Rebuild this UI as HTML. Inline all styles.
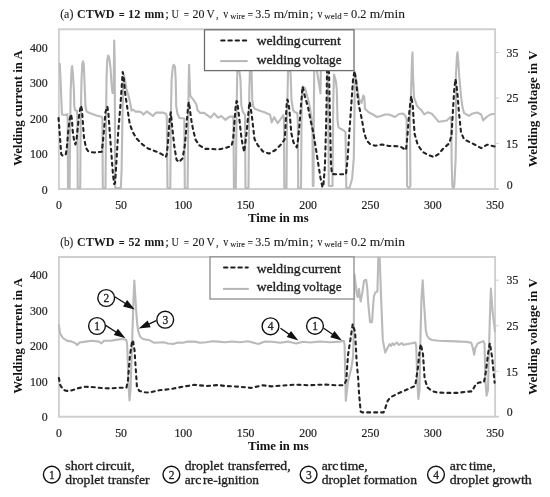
<!DOCTYPE html>
<html><head><meta charset="utf-8"><style>
html,body{margin:0;padding:0;background:#fff;width:550px;height:497px;overflow:hidden}
svg{display:block;will-change:transform;font-family:"Liberation Serif", serif}
</style></head><body>
<svg width="550" height="497" viewBox="0 0 550 497">
<text transform="translate(60.17 17.90) scale(1.0053 1)" font-size="11.8" stroke="#1a1a1a" stroke-width="0.1" fill="#1a1a1a">(a)</text>
<text transform="translate(76.99 17.90) scale(1.0259 1)" font-size="11.8" font-weight="bold" fill="#1a1a1a">CTWD</text>
<text transform="translate(118.87 18.80) scale(0.8930 1)" font-size="11.8" font-weight="bold" fill="#1a1a1a">=</text>
<text transform="translate(128.01 17.90) scale(1.0497 1)" font-size="11.8" font-weight="bold" fill="#1a1a1a">12</text>
<text transform="translate(144.40 17.90) scale(1.0013 1)" font-size="11.8" font-weight="bold" fill="#1a1a1a">mm</text>
<text transform="translate(165.33 17.90) scale(1.1299 1)" font-size="11.8" stroke="#1a1a1a" stroke-width="0.1" fill="#1a1a1a">;</text>
<text transform="translate(171.49 17.90) scale(0.8724 1)" font-size="11.8" stroke="#1a1a1a" stroke-width="0.1" fill="#1a1a1a">U</text>
<text transform="translate(183.74 18.80) scale(0.7837 1)" font-size="11.8" stroke="#1a1a1a" stroke-width="0.1" fill="#1a1a1a">=</text>
<text transform="translate(192.46 17.90) scale(1.0188 1)" font-size="11.8" stroke="#1a1a1a" stroke-width="0.1" fill="#1a1a1a">20</text>
<text transform="translate(206.59 17.90) scale(0.9685 1)" font-size="11.8" stroke="#1a1a1a" stroke-width="0.1" fill="#1a1a1a">V</text>
<text transform="translate(215.91 17.90) scale(0.8182 1)" font-size="11.8" stroke="#1a1a1a" stroke-width="0.1" fill="#1a1a1a">,</text>
<text transform="translate(223.20 17.90) scale(0.7692 1)" font-size="13.0" stroke="#1a1a1a" stroke-width="0.1" fill="#1a1a1a">v</text>
<text transform="translate(230.20 18.80) scale(0.9508 1)" font-size="8.8" stroke="#1a1a1a" stroke-width="0.1" fill="#1a1a1a">wire</text>
<text transform="translate(247.41 18.80) scale(0.8383 1)" font-size="11.8" stroke="#1a1a1a" stroke-width="0.1" fill="#1a1a1a">=</text>
<text transform="translate(255.16 17.90) scale(1.0257 1)" font-size="11.8" stroke="#1a1a1a" stroke-width="0.1" fill="#1a1a1a">3.5</text>
<text transform="translate(273.73 17.90) scale(1.1321 1)" font-size="11.8" stroke="#1a1a1a" stroke-width="0.1" fill="#1a1a1a">m/min</text>
<text transform="translate(310.10 17.90) scale(1.0169 1)" font-size="11.8" stroke="#1a1a1a" stroke-width="0.1" fill="#1a1a1a">;</text>
<text transform="translate(317.50 17.90) scale(0.7692 1)" font-size="13.0" stroke="#1a1a1a" stroke-width="0.1" fill="#1a1a1a">v</text>
<text transform="translate(324.30 18.80) scale(1.0160 1)" font-size="8.8" stroke="#1a1a1a" stroke-width="0.1" fill="#1a1a1a">weld</text>
<text transform="translate(343.38 18.80) scale(0.7108 1)" font-size="11.8" stroke="#1a1a1a" stroke-width="0.1" fill="#1a1a1a">=</text>
<text transform="translate(351.00 17.90) scale(1.0492 1)" font-size="11.8" stroke="#1a1a1a" stroke-width="0.1" fill="#1a1a1a">0.2</text>
<text transform="translate(369.73 17.90) scale(1.1453 1)" font-size="11.8" stroke="#1a1a1a" stroke-width="0.1" fill="#1a1a1a">m/min</text>
<path d="M58.9 189.0 V29.3 H495.1 V189.0 M58.0 189.0 H498.90000000000003" fill="none" stroke="#cfcfcf" stroke-width="1.9"/>
<line x1="495.1" y1="52.5" x2="498.90000000000003" y2="52.5" stroke="#cfcfcf" stroke-width="1"/>
<line x1="495.1" y1="98.1" x2="498.90000000000003" y2="98.1" stroke="#cfcfcf" stroke-width="1"/>
<line x1="495.1" y1="143.6" x2="498.90000000000003" y2="143.6" stroke="#cfcfcf" stroke-width="1"/>
<text transform="translate(29.97 51.65) scale(1.0000 1)" font-size="11.8" stroke="#222" stroke-width="0.2" fill="#222">400</text>
<text transform="translate(29.97 87.25) scale(1.0000 1)" font-size="11.8" stroke="#222" stroke-width="0.2" fill="#222">300</text>
<text transform="translate(29.97 122.75) scale(1.0000 1)" font-size="11.8" stroke="#222" stroke-width="0.2" fill="#222">200</text>
<text transform="translate(29.97 158.25) scale(1.0000 1)" font-size="11.8" stroke="#222" stroke-width="0.2" fill="#222">100</text>
<text transform="translate(41.77 193.75) scale(1.0000 1)" font-size="11.8" stroke="#222" stroke-width="0.2" fill="#222">0</text>
<text transform="translate(506.57 56.65) scale(1.0000 1)" font-size="11.8" stroke="#222" stroke-width="0.2" fill="#222">35</text>
<text transform="translate(506.57 102.15) scale(1.0000 1)" font-size="11.8" stroke="#222" stroke-width="0.2" fill="#222">25</text>
<text transform="translate(506.10 147.95) scale(1.0000 1)" font-size="11.8" stroke="#222" stroke-width="0.2" fill="#222">15</text>
<text transform="translate(506.63 188.65) scale(1.0000 1)" font-size="11.8" stroke="#222" stroke-width="0.2" fill="#222">0</text>
<text transform="translate(55.95 209.25) scale(1.0000 1)" font-size="11.8" stroke="#222" stroke-width="0.2" fill="#222">0</text>
<text transform="translate(115.20 209.25) scale(1.0000 1)" font-size="11.8" stroke="#222" stroke-width="0.2" fill="#222">50</text>
<text transform="translate(174.41 209.25) scale(1.0000 1)" font-size="11.8" stroke="#222" stroke-width="0.2" fill="#222">100</text>
<text transform="translate(236.73 209.25) scale(1.0000 1)" font-size="11.8" stroke="#222" stroke-width="0.2" fill="#222">150</text>
<text transform="translate(299.28 209.25) scale(1.0000 1)" font-size="11.8" stroke="#222" stroke-width="0.2" fill="#222">200</text>
<text transform="translate(361.59 209.25) scale(1.0000 1)" font-size="11.8" stroke="#222" stroke-width="0.2" fill="#222">250</text>
<text transform="translate(423.91 209.25) scale(1.0000 1)" font-size="11.8" stroke="#222" stroke-width="0.2" fill="#222">300</text>
<text transform="translate(486.22 209.25) scale(1.0000 1)" font-size="11.8" stroke="#222" stroke-width="0.2" fill="#222">350</text>
<text transform="translate(247.91 221.80) scale(1.1013 1)" font-size="11.6" font-weight="bold" fill="#111">Time in ms</text>
<text transform="translate(21.50 165.99) rotate(-90) scale(1.0627 1)" font-size="12.1" font-weight="bold" fill="#111">Welding current in A</text>
<text transform="translate(537.20 167.20) rotate(-90) scale(1.0845 1)" font-size="12.1" font-weight="bold" fill="#111">Welding voltage in V</text>
<text transform="translate(60.20 245.60) scale(0.9495 1)" font-size="11.8" stroke="#1a1a1a" stroke-width="0.1" fill="#1a1a1a">(b)</text>
<text transform="translate(76.99 245.60) scale(1.0259 1)" font-size="11.8" font-weight="bold" fill="#1a1a1a">CTWD</text>
<text transform="translate(118.87 246.50) scale(0.8930 1)" font-size="11.8" font-weight="bold" fill="#1a1a1a">=</text>
<text transform="translate(128.53 245.60) scale(1.0041 1)" font-size="11.8" font-weight="bold" fill="#1a1a1a">52</text>
<text transform="translate(144.40 245.60) scale(1.0013 1)" font-size="11.8" font-weight="bold" fill="#1a1a1a">mm</text>
<text transform="translate(165.33 245.60) scale(1.1299 1)" font-size="11.8" stroke="#1a1a1a" stroke-width="0.1" fill="#1a1a1a">;</text>
<text transform="translate(171.49 245.60) scale(0.8724 1)" font-size="11.8" stroke="#1a1a1a" stroke-width="0.1" fill="#1a1a1a">U</text>
<text transform="translate(183.74 246.50) scale(0.7837 1)" font-size="11.8" stroke="#1a1a1a" stroke-width="0.1" fill="#1a1a1a">=</text>
<text transform="translate(192.46 245.60) scale(1.0188 1)" font-size="11.8" stroke="#1a1a1a" stroke-width="0.1" fill="#1a1a1a">20</text>
<text transform="translate(206.59 245.60) scale(0.9685 1)" font-size="11.8" stroke="#1a1a1a" stroke-width="0.1" fill="#1a1a1a">V</text>
<text transform="translate(215.91 245.60) scale(0.8182 1)" font-size="11.8" stroke="#1a1a1a" stroke-width="0.1" fill="#1a1a1a">,</text>
<text transform="translate(223.20 245.60) scale(0.7692 1)" font-size="13.0" stroke="#1a1a1a" stroke-width="0.1" fill="#1a1a1a">v</text>
<text transform="translate(230.20 246.50) scale(0.9508 1)" font-size="8.8" stroke="#1a1a1a" stroke-width="0.1" fill="#1a1a1a">wire</text>
<text transform="translate(247.41 246.50) scale(0.8383 1)" font-size="11.8" stroke="#1a1a1a" stroke-width="0.1" fill="#1a1a1a">=</text>
<text transform="translate(255.16 245.60) scale(1.0257 1)" font-size="11.8" stroke="#1a1a1a" stroke-width="0.1" fill="#1a1a1a">3.5</text>
<text transform="translate(273.73 245.60) scale(1.1321 1)" font-size="11.8" stroke="#1a1a1a" stroke-width="0.1" fill="#1a1a1a">m/min</text>
<text transform="translate(310.10 245.60) scale(1.0169 1)" font-size="11.8" stroke="#1a1a1a" stroke-width="0.1" fill="#1a1a1a">;</text>
<text transform="translate(317.50 245.60) scale(0.7692 1)" font-size="13.0" stroke="#1a1a1a" stroke-width="0.1" fill="#1a1a1a">v</text>
<text transform="translate(324.30 246.50) scale(1.0160 1)" font-size="8.8" stroke="#1a1a1a" stroke-width="0.1" fill="#1a1a1a">weld</text>
<text transform="translate(343.38 246.50) scale(0.7108 1)" font-size="11.8" stroke="#1a1a1a" stroke-width="0.1" fill="#1a1a1a">=</text>
<text transform="translate(351.00 245.60) scale(1.0492 1)" font-size="11.8" stroke="#1a1a1a" stroke-width="0.1" fill="#1a1a1a">0.2</text>
<text transform="translate(369.73 245.60) scale(1.1453 1)" font-size="11.8" stroke="#1a1a1a" stroke-width="0.1" fill="#1a1a1a">m/min</text>
<path d="M58.9 416.7 V257.0 H495.1 V416.7 M58.0 416.7 H498.90000000000003" fill="none" stroke="#cfcfcf" stroke-width="1.9"/>
<line x1="495.1" y1="280.2" x2="498.90000000000003" y2="280.2" stroke="#cfcfcf" stroke-width="1"/>
<line x1="495.1" y1="325.8" x2="498.90000000000003" y2="325.8" stroke="#cfcfcf" stroke-width="1"/>
<line x1="495.1" y1="371.3" x2="498.90000000000003" y2="371.3" stroke="#cfcfcf" stroke-width="1"/>
<text transform="translate(29.97 279.35) scale(1.0000 1)" font-size="11.8" stroke="#222" stroke-width="0.2" fill="#222">400</text>
<text transform="translate(29.97 314.95) scale(1.0000 1)" font-size="11.8" stroke="#222" stroke-width="0.2" fill="#222">300</text>
<text transform="translate(29.97 350.45) scale(1.0000 1)" font-size="11.8" stroke="#222" stroke-width="0.2" fill="#222">200</text>
<text transform="translate(29.97 385.95) scale(1.0000 1)" font-size="11.8" stroke="#222" stroke-width="0.2" fill="#222">100</text>
<text transform="translate(41.77 421.45) scale(1.0000 1)" font-size="11.8" stroke="#222" stroke-width="0.2" fill="#222">0</text>
<text transform="translate(506.57 284.35) scale(1.0000 1)" font-size="11.8" stroke="#222" stroke-width="0.2" fill="#222">35</text>
<text transform="translate(506.57 329.85) scale(1.0000 1)" font-size="11.8" stroke="#222" stroke-width="0.2" fill="#222">25</text>
<text transform="translate(506.10 375.65) scale(1.0000 1)" font-size="11.8" stroke="#222" stroke-width="0.2" fill="#222">15</text>
<text transform="translate(506.63 416.35) scale(1.0000 1)" font-size="11.8" stroke="#222" stroke-width="0.2" fill="#222">0</text>
<text transform="translate(55.95 436.95) scale(1.0000 1)" font-size="11.8" stroke="#222" stroke-width="0.2" fill="#222">0</text>
<text transform="translate(115.20 436.95) scale(1.0000 1)" font-size="11.8" stroke="#222" stroke-width="0.2" fill="#222">50</text>
<text transform="translate(174.41 436.95) scale(1.0000 1)" font-size="11.8" stroke="#222" stroke-width="0.2" fill="#222">100</text>
<text transform="translate(236.73 436.95) scale(1.0000 1)" font-size="11.8" stroke="#222" stroke-width="0.2" fill="#222">150</text>
<text transform="translate(299.28 436.95) scale(1.0000 1)" font-size="11.8" stroke="#222" stroke-width="0.2" fill="#222">200</text>
<text transform="translate(361.59 436.95) scale(1.0000 1)" font-size="11.8" stroke="#222" stroke-width="0.2" fill="#222">250</text>
<text transform="translate(423.91 436.95) scale(1.0000 1)" font-size="11.8" stroke="#222" stroke-width="0.2" fill="#222">300</text>
<text transform="translate(486.22 436.95) scale(1.0000 1)" font-size="11.8" stroke="#222" stroke-width="0.2" fill="#222">350</text>
<text transform="translate(247.91 449.50) scale(1.1013 1)" font-size="11.6" font-weight="bold" fill="#111">Time in ms</text>
<text transform="translate(21.50 393.69) rotate(-90) scale(1.0627 1)" font-size="12.1" font-weight="bold" fill="#111">Welding current in A</text>
<text transform="translate(537.20 394.90) rotate(-90) scale(1.0845 1)" font-size="12.1" font-weight="bold" fill="#111">Welding voltage in V</text>
<polyline points="58.6,64.0 59.8,64.0 61.0,90.0 61.6,106.0 62.0,114.5 66.0,115.0 67.3,114.0 67.7,120.0 68.0,188.0 69.6,188.0 70.2,120.0 70.7,90.0 71.5,70.0 72.1,66.1 72.8,72.0 73.9,90.0 74.3,106.0 75.0,110.0 77.0,111.0 77.4,116.0 77.7,188.0 80.2,188.0 80.7,120.0 81.5,80.0 82.3,64.0 83.0,61.3 83.8,64.0 84.8,90.0 85.5,106.0 86.5,111.5 89.6,113.0 96.5,115.5 101.7,116.7 102.4,118.0 102.8,188.0 105.5,188.0 106.1,120.0 106.5,80.0 107.2,60.0 108.2,55.5 109.3,58.0 110.5,68.0 111.6,85.0 112.5,93.0 113.6,93.0 114.2,40.5 114.7,60.0 115.2,188.0 120.8,188.0 121.6,170.0 122.4,120.0 123.2,85.0 123.9,75.5 125.0,80.0 126.4,88.7 128.3,95.0 129.9,101.5 131.5,110.5 133.2,109.7 135.6,111.8 138.1,111.4 141.4,112.2 143.4,114.6 146.7,111.4 149.5,113.4 152.8,115.9 156.1,112.6 159.4,112.6 162.6,112.6 165.9,113.8 166.8,116.0 167.5,188.0 170.3,188.0 170.8,120.0 171.6,80.0 172.8,67.0 173.9,64.8 175.0,67.0 175.7,80.0 176.2,106.0 177.5,114.0 179.6,118.0 184.3,118.5 184.8,188.0 187.6,188.0 188.3,120.0 188.7,80.0 189.1,64.8 189.6,80.0 190.2,95.0 190.8,96.6 194.1,100.7 196.3,104.2 197.6,110.3 200.2,112.9 204.1,112.9 207.2,115.1 210.7,117.7 214.2,113.4 218.1,117.7 221.2,116.0 225.5,119.9 229.0,116.9 232.8,116.4 233.5,120.0 233.9,188.0 235.8,188.0 236.5,120.0 237.3,70.0 239.0,68.0 240.5,80.0 241.3,105.0 243.0,112.0 245.0,115.0 245.5,188.0 248.5,188.0 249.3,90.0 250.0,68.0 251.5,70.0 252.3,100.0 253.2,106.3 254.8,108.7 259.7,110.7 264.5,112.3 270.1,114.7 271.7,122.4 274.1,117.1 277.8,123.2 280.6,119.1 283.4,115.1 284.0,120.0 284.3,188.0 286.5,188.0 287.0,120.0 288.0,72.0 289.5,70.0 290.5,72.0 291.5,100.0 293.0,110.0 294.6,112.0 297.2,113.0 297.8,120.0 298.2,188.0 301.0,188.0 301.6,110.0 302.3,90.0 302.8,86.5 305.0,88.0 308.0,99.0 310.0,108.0 311.5,119.0 312.5,134.0 312.8,186.0 313.5,186.0 313.8,120.0 314.2,70.0 316.5,68.0 320.5,93.5 320.8,70.0 327.5,68.0 328.2,100.0 328.8,186.0 332.5,186.0 333.3,100.0 334.0,74.5 335.0,78.0 336.0,82.0 336.8,90.0 337.5,120.0 338.5,127.5 340.0,128.5 343.5,130.2 345.5,132.0 346.3,188.0 349.5,188.0 352.1,178.7 353.8,158.0 354.5,106.0 354.8,72.0 355.7,77.0 359.0,99.0 361.5,103.0 363.3,95.5 364.3,97.0 365.0,109.0 369.0,112.5 373.0,114.5 377.0,117.0 381.0,116.0 385.0,114.5 389.0,114.5 395.0,117.0 399.0,114.0 403.0,113.5 405.5,116.0 406.6,120.0 407.1,186.0 408.8,188.3 410.4,186.0 410.0,120.0 411.0,93.7 412.0,60.0 412.5,52.4 413.0,75.0 414.0,97.0 416.8,105.5 419.0,108.0 420.9,109.6 424.3,114.3 427.7,112.3 431.8,113.7 435.9,118.4 438.7,121.8 442.7,121.2 446.8,120.5 450.5,117.1 451.3,120.0 451.6,160.0 452.3,186.0 453.3,188.3 454.3,186.0 455.6,160.0 456.2,130.0 455.9,75.5 457.0,55.0 457.5,52.4 458.2,60.0 459.2,75.5 460.5,90.0 461.3,98.6 462.4,106.4 464.0,112.9 468.9,115.8 472.2,113.7 477.1,112.5 481.2,114.5 483.2,120.3 486.1,117.4 490.2,114.5 494.5,113.7" fill="none" stroke="#bababa" stroke-width="2.1" stroke-linejoin="round"/>
<polyline points="58.9,324.5 59.5,330.0 60.2,333.6 62.9,338.0 66.8,340.6 71.9,341.6 75.0,343.0 77.2,345.0 79.5,342.5 85.4,341.6 92.2,340.8 98.9,341.6 101.5,343.3 104.0,340.8 110.8,340.8 115.8,339.9 122.6,339.0 126.4,340.0 127.2,345.0 128.5,385.0 129.5,400.4 130.5,390.0 131.5,360.0 132.5,330.0 133.5,300.0 134.3,280.5 135.2,295.0 136.3,312.0 137.3,325.0 138.2,331.0 139.5,335.0 140.8,337.5 143.0,339.0 145.5,339.6 148.8,339.8 154.3,342.8 163.8,342.3 168.0,343.5 173.3,343.9 178.0,342.5 182.8,342.8 188.0,341.5 194.6,341.6 200.0,342.8 206.5,342.3 212.0,341.2 218.4,341.6 225.0,342.3 232.0,341.5 240.0,342.3 248.0,341.2 258.3,343.9 265.0,341.5 272.0,341.8 280.0,342.8 288.0,341.6 296.3,343.5 303.0,341.8 310.0,342.5 320.0,341.5 330.0,342.2 340.4,341.6 343.8,340.8 344.6,345.0 345.8,400.8 348.0,381.3 351.4,367.8 353.1,356.0 353.8,330.0 354.2,274.0 354.6,275.3 356.2,288.9 357.2,296.0 358.0,297.0 358.9,288.9 359.8,296.0 360.7,301.5 362.5,291.6 364.0,280.7 366.2,279.8 367.1,286.2 368.3,304.2 370.1,322.3 372.0,322.3 373.8,297.0 375.2,292.5 377.4,291.6 378.3,257.8 379.7,257.8 381.0,295.2 382.8,339.9 385.2,352.6 386.5,350.0 389.4,344.1 391.0,346.0 392.5,343.3 394.0,345.0 396.8,342.5 399.0,345.0 401.8,343.0 403.5,345.0 406.9,344.1 412.0,343.3 415.4,342.5 416.2,346.0 417.5,385.0 418.4,399.0 419.5,390.0 420.4,340.0 421.4,300.0 422.7,280.4 423.5,295.0 424.8,315.0 425.8,330.0 427.0,335.5 429.0,338.5 432.0,340.0 439.0,340.8 449.2,341.1 461.0,341.6 466.4,341.9 471.3,342.7 472.9,348.3 474.2,354.7 475.3,348.0 477.7,343.5 483.3,341.1 484.5,343.5 485.4,380.0 486.6,395.6 488.0,390.0 488.7,360.0 489.8,320.0 490.9,288.5 492.5,310.3 494.2,324.8 495.0,332.0" fill="none" stroke="#bababa" stroke-width="2.1" stroke-linejoin="round"/>
<polyline points="58.5,118.0 59.5,130.0 60.5,145.0 61.3,154.3 62.5,155.6 64.5,155.6 65.8,154.3 66.8,148.0 68.2,132.0 69.5,120.0 71.1,114.3 72.0,120.0 72.6,130.0 74.0,140.0 75.4,144.5 76.5,140.0 78.0,125.0 79.5,112.0 81.0,105.6 82.0,110.0 82.7,120.0 83.9,137.0 86.0,148.0 88.0,151.0 90.2,152.0 94.4,152.5 98.0,152.0 101.7,151.8 102.6,145.0 104.0,130.0 105.5,112.0 106.5,109.0 107.3,106.5 108.3,112.0 110.4,140.6 113.0,175.0 114.2,184.0 115.0,183.0 115.6,175.0 118.2,132.0 120.4,106.0 121.5,90.0 122.7,72.0 123.5,75.0 124.6,88.0 125.4,95.0 127.5,109.1 129.6,123.2 132.5,131.6 136.7,138.7 142.3,144.3 148.0,148.5 153.6,150.6 159.2,152.7 163.0,155.0 165.7,157.0 166.6,155.0 167.8,145.0 168.8,130.0 169.8,118.0 170.8,112.3 172.0,125.0 174.3,146.3 176.6,159.9 178.9,162.1 182.6,158.3 184.9,144.8 186.0,132.0 187.1,117.6 188.2,106.0 188.8,102.0 189.6,107.2 191.4,120.5 193.2,130.2 195.7,139.9 199.3,145.3 205.3,148.9 211.4,148.9 217.4,149.5 224.6,148.3 229.0,146.8 231.5,146.0 233.2,139.0 234.6,120.0 235.8,105.0 236.6,101.0 237.3,102.0 239.0,116.0 241.6,139.2 244.2,152.0 246.7,131.5 249.3,103.4 249.8,102.0 251.9,116.2 254.5,139.1 258.2,145.9 259.5,146.8 262.7,151.4 269.1,153.6 275.5,150.0 281.8,143.6 284.8,139.0 285.6,125.0 286.3,110.0 286.9,101.0 287.4,99.5 288.4,103.0 289.4,110.0 290.2,120.0 291.4,133.6 293.6,142.7 296.8,147.3 298.0,140.0 299.5,125.0 301.0,105.0 302.6,86.5 305.0,97.0 308.0,107.0 310.5,120.0 313.0,131.0 315.5,146.0 318.6,166.0 320.5,178.0 322.5,187.3 323.5,184.0 324.9,166.6 326.0,130.0 326.6,100.0 327.0,72.0 327.5,68.0 329.0,72.0 330.0,120.0 331.0,165.0 332.0,174.0 336.0,174.3 340.0,174.3 346.0,174.3 347.5,160.0 349.5,130.0 351.2,106.0 353.0,80.0 354.5,71.0 356.0,80.0 357.5,95.0 359.0,106.0 362.0,120.0 364.0,132.0 365.5,137.0 367.0,141.0 370.0,144.0 375.0,145.8 382.0,144.5 389.0,146.0 397.0,146.2 401.0,147.0 406.0,150.1 407.5,135.0 409.0,115.0 410.0,106.0 411.3,96.0 412.8,106.0 413.6,120.0 414.6,133.9 417.7,144.7 422.4,151.7 428.5,155.2 434.0,157.1 438.6,154.0 443.2,148.6 449.4,143.2 451.5,135.0 453.0,110.0 454.2,90.0 455.4,79.0 456.5,85.0 458.0,100.0 458.4,106.0 459.5,118.0 461.0,132.4 464.1,139.3 468.7,141.6 474.9,144.7 481.1,148.1 487.3,144.7 494.6,146.5" fill="none" stroke="#232323" stroke-width="2.1" stroke-linecap="round" stroke-dasharray="3.0 4.0" stroke-linejoin="round"/>
<polyline points="58.9,378.0 60.1,384.7 61.0,386.5 63.5,389.8 65.6,390.6 68.5,391.1 73.6,389.8 78.7,388.1 85.4,386.7 93.9,387.2 102.3,388.1 110.8,388.4 119.2,387.7 126.4,387.8 128.0,380.0 130.0,355.0 132.0,342.0 132.9,340.3 134.5,350.0 136.9,386.2 139.3,391.0 141.8,391.5 145.0,392.3 149.5,392.6 159.0,390.3 170.9,389.0 182.8,386.7 194.6,384.8 206.5,386.0 218.4,385.0 225.0,386.0 239.3,386.7 251.1,387.9 262.8,385.3 271.5,386.4 283.0,385.5 295.5,384.6 308.6,385.3 317.0,384.8 326.0,384.6 335.0,385.2 343.3,385.3 345.0,383.0 346.3,380.0 348.0,355.0 350.3,340.3 352.7,324.2 355.1,332.2 356.5,359.4 358.3,380.0 359.0,393.2 360.7,411.7 362.0,412.4 383.5,412.4 384.3,411.0 385.2,408.5 386.5,404.0 387.7,400.9 389.5,398.5 391.4,396.8 398.6,393.2 405.9,390.0 415.2,385.9 417.9,367.8 419.6,350.9 420.8,344.1 423.0,354.3 424.6,378.0 427.2,387.2 432.0,391.0 436.5,392.4 446.4,392.9 457.3,392.9 466.0,391.8 472.0,391.3 473.8,388.0 475.8,384.2 479.1,382.5 484.0,382.0 485.8,372.2 488.2,352.9 489.8,343.2 492.2,357.7 494.6,382.7" fill="none" stroke="#232323" stroke-width="2.1" stroke-linecap="round" stroke-dasharray="3.0 4.0" stroke-linejoin="round"/>
<rect x="204.5" y="29.8" width="149.5" height="40.8" fill="#fff" stroke="#6e6e6e" stroke-width="1.3"/>
<line x1="221.2" y1="40.6" x2="246.7" y2="40.6" stroke="#1e1e1e" stroke-width="2" stroke-linecap="round" stroke-dasharray="3.4 3.8"/>
<line x1="220.2" y1="61.1" x2="247.7" y2="61.1" stroke="#b5b5b5" stroke-width="2"/>
<text transform="translate(256.70 45.30) scale(1.1354 1)" font-size="12" stroke="#222" stroke-width="0.3" fill="#222">welding</text>
<text transform="translate(301.85 45.30) scale(1.1460 1)" font-size="12" stroke="#222" stroke-width="0.3" fill="#222">current</text>
<text transform="translate(256.70 63.50) scale(1.1354 1)" font-size="12" stroke="#222" stroke-width="0.3" fill="#222">welding</text>
<text transform="translate(302.80 63.50) scale(1.0968 1)" font-size="12" stroke="#222" stroke-width="0.3" fill="#222">voltage</text>
<rect x="210.0" y="256.9" width="144.0" height="42.1" fill="#fff" stroke="#8c8c8c" stroke-width="1.3"/>
<line x1="224.0" y1="267.4" x2="247.8" y2="267.4" stroke="#1e1e1e" stroke-width="2" stroke-linecap="round" stroke-dasharray="3.4 3.8"/>
<line x1="223.0" y1="288.9" x2="248.8" y2="288.9" stroke="#b5b5b5" stroke-width="2"/>
<text transform="translate(256.70 272.80) scale(1.1354 1)" font-size="12" stroke="#222" stroke-width="0.3" fill="#222">welding</text>
<text transform="translate(301.85 272.80) scale(1.1460 1)" font-size="12" stroke="#222" stroke-width="0.3" fill="#222">current</text>
<text transform="translate(256.70 291.00) scale(1.1354 1)" font-size="12" stroke="#222" stroke-width="0.3" fill="#222">welding</text>
<text transform="translate(302.80 291.00) scale(1.0968 1)" font-size="12" stroke="#222" stroke-width="0.3" fill="#222">voltage</text>
<line x1="114.8" y1="296.7" x2="125.8" y2="303.8" stroke="#111" stroke-width="1.3"/><polygon points="134.7,309.4 123.0,306.4 127.1,300.0" fill="#111"/>
<line x1="105.3" y1="325.1" x2="116.7" y2="332.5" stroke="#111" stroke-width="1.3"/><polygon points="125.5,338.2 113.8,335.1 117.9,328.8" fill="#111"/>
<line x1="156.2" y1="320.7" x2="148.3" y2="324.3" stroke="#111" stroke-width="1.3"/><polygon points="138.7,328.6 147.6,320.4 150.7,327.3" fill="#111"/>
<line x1="280.5" y1="328.3" x2="289.6" y2="334.6" stroke="#111" stroke-width="1.3"/><polygon points="298.3,340.5 286.7,337.1 291.0,330.9" fill="#111"/>
<line x1="323.7" y1="328.3" x2="333.2" y2="334.7" stroke="#111" stroke-width="1.3"/><polygon points="341.9,340.5 330.2,337.3 334.5,330.9" fill="#111"/>
<circle cx="106.2" cy="298" r="8.4" fill="#fff" stroke="#111" stroke-width="1.4"/><text transform="translate(103.58 302.00) scale(1.0000 1)" font-size="11.5" stroke="#262626" stroke-width="0.3" fill="#262626">2</text>
<circle cx="97" cy="326" r="8.4" fill="#fff" stroke="#111" stroke-width="1.4"/><text transform="translate(94.18 330.00) scale(1.0000 1)" font-size="11.5" stroke="#262626" stroke-width="0.3" fill="#262626">1</text>
<circle cx="165.2" cy="319.7" r="8.4" fill="#fff" stroke="#111" stroke-width="1.4"/><text transform="translate(162.50 323.70) scale(1.0000 1)" font-size="11.5" stroke="#262626" stroke-width="0.3" fill="#262626">3</text>
<circle cx="270.5" cy="326.3" r="8.4" fill="#fff" stroke="#111" stroke-width="1.4"/><text transform="translate(267.80 330.30) scale(1.0000 1)" font-size="11.5" stroke="#262626" stroke-width="0.3" fill="#262626">4</text>
<circle cx="315" cy="325.9" r="8.4" fill="#fff" stroke="#111" stroke-width="1.4"/><text transform="translate(312.18 329.90) scale(1.0000 1)" font-size="11.5" stroke="#262626" stroke-width="0.3" fill="#262626">1</text>
<circle cx="51.8" cy="474.6" r="8.4" fill="#fff" stroke="#111" stroke-width="1.4"/><text transform="translate(48.98 478.60) scale(1.0000 1)" font-size="11.5" stroke="#262626" stroke-width="0.3" fill="#262626">1</text>
<text transform="translate(65.24 470.40) scale(1.1679 1)" font-size="11.9" stroke="#1e1e1e" stroke-width="0.3" fill="#1e1e1e">short</text>
<text transform="translate(95.64 470.40) scale(1.1702 1)" font-size="11.9" stroke="#1e1e1e" stroke-width="0.3" fill="#1e1e1e">circuit,</text>
<text transform="translate(65.32 484.00) scale(1.1506 1)" font-size="11.9" stroke="#1e1e1e" stroke-width="0.3" fill="#1e1e1e">droplet</text>
<text transform="translate(107.86 484.00) scale(1.1463 1)" font-size="11.9" stroke="#1e1e1e" stroke-width="0.3" fill="#1e1e1e">transfer</text>
<circle cx="171.4" cy="474.6" r="8.4" fill="#fff" stroke="#111" stroke-width="1.4"/><text transform="translate(168.78 478.60) scale(1.0000 1)" font-size="11.5" stroke="#262626" stroke-width="0.3" fill="#262626">2</text>
<text transform="translate(184.72 470.40) scale(1.1506 1)" font-size="11.9" stroke="#1e1e1e" stroke-width="0.3" fill="#1e1e1e">droplet</text>
<text transform="translate(227.66 470.40) scale(1.1565 1)" font-size="11.9" stroke="#1e1e1e" stroke-width="0.3" fill="#1e1e1e">transferred,</text>
<text transform="translate(184.73 484.00) scale(1.1350 1)" font-size="11.9" stroke="#1e1e1e" stroke-width="0.3" fill="#1e1e1e">arc</text>
<text transform="translate(202.93 484.00) scale(1.1164 1)" font-size="11.9" stroke="#1e1e1e" stroke-width="0.3" fill="#1e1e1e">re-ignition</text>
<circle cx="308.6" cy="474.6" r="8.4" fill="#fff" stroke="#111" stroke-width="1.4"/><text transform="translate(305.90 478.60) scale(1.0000 1)" font-size="11.5" stroke="#262626" stroke-width="0.3" fill="#262626">3</text>
<text transform="translate(321.73 470.40) scale(1.1350 1)" font-size="11.9" stroke="#1e1e1e" stroke-width="0.3" fill="#1e1e1e">arc</text>
<text transform="translate(340.06 470.40) scale(1.1463 1)" font-size="11.9" stroke="#1e1e1e" stroke-width="0.3" fill="#1e1e1e">time,</text>
<text transform="translate(321.72 484.00) scale(1.1445 1)" font-size="11.9" stroke="#1e1e1e" stroke-width="0.3" fill="#1e1e1e">droplet</text>
<text transform="translate(363.39 484.00) scale(1.1420 1)" font-size="11.9" stroke="#1e1e1e" stroke-width="0.3" fill="#1e1e1e">formation</text>
<circle cx="436.0" cy="474.6" r="8.4" fill="#fff" stroke="#111" stroke-width="1.4"/><text transform="translate(433.30 478.60) scale(1.0000 1)" font-size="11.5" stroke="#262626" stroke-width="0.3" fill="#262626">4</text>
<text transform="translate(449.82 470.40) scale(1.1641 1)" font-size="11.9" stroke="#1e1e1e" stroke-width="0.3" fill="#1e1e1e">arc</text>
<text transform="translate(468.97 470.40) scale(1.1118 1)" font-size="11.9" stroke="#1e1e1e" stroke-width="0.3" fill="#1e1e1e">time,</text>
<text transform="translate(449.82 484.00) scale(1.1566 1)" font-size="11.9" stroke="#1e1e1e" stroke-width="0.3" fill="#1e1e1e">droplet</text>
<text transform="translate(492.17 484.00) scale(1.1780 1)" font-size="11.9" stroke="#1e1e1e" stroke-width="0.3" fill="#1e1e1e">growth</text>
</svg>
</body></html>
